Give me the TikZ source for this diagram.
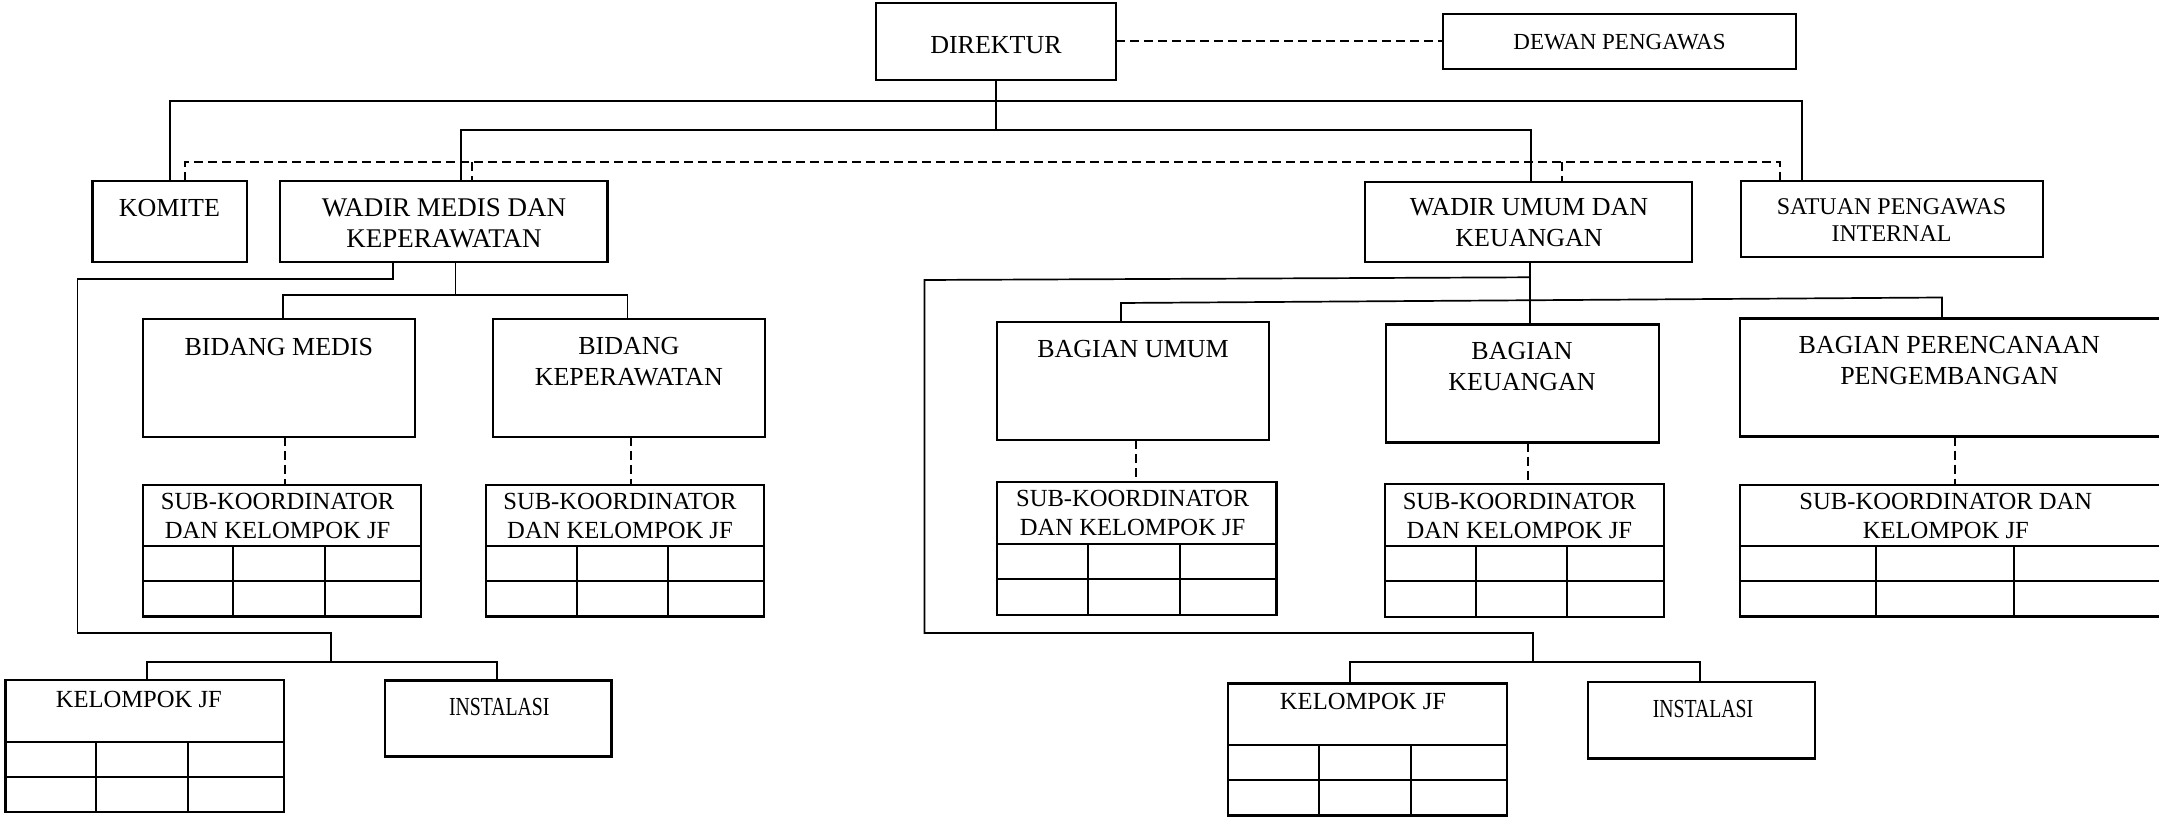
\documentclass[tikz,border=0pt]{standalone}
\usepackage{fontspec}
\setmainfont{Liberation Serif}
\usepackage{graphicx}
\tikzset{
 box/.style={draw, line width=1.25pt, inner sep=0pt, outer sep=0pt, rectangle},
 conn/.style={line width=0.85pt},
 dconn/.style={line width=1pt, dash pattern=on 4.5pt off 2.5pt},
 gridline/.style={line width=1pt},
 txt/.style={inner sep=0pt, align=center, font=\fontsize{13}{15.5}\selectfont},
 stxt/.style={inner sep=0pt, align=center, font=\fontsize{12.3}{14.25}\selectfont},
}
\newcommand\bx[5]{\node[box, minimum width={(#4-#2)*0.5pt}, minimum height={(#5-#3)*0.5pt}] (#1) at ({(#2+#4)/2},{(#3+#5)/2}) {};}
\newcommand\tbl[5]{%
 \draw[gridline] (#1.west |- 0,#2) -- (#1.east |- 0,#2);
 \draw[gridline] (#1.west |- 0,#3) -- (#1.east |- 0,#3);
 \draw[gridline] (#4,#2) -- (#1.south -| #4,0);
 \draw[gridline] (#5,#2) -- (#1.south -| #5,0);}
\begin{document}
\begin{tikzpicture}[x=0.5pt,y=-0.5pt]
\useasboundingbox (0,0) rectangle (2159,817);
\clip (0,0) rectangle (2159,817);
% boxes
\bx{direktur}{876}{3}{1116}{80}
\bx{dewan}{1443}{14}{1796}{69}
\bx{komite}{92.6}{181}{247}{262}
\bx{wmedis}{280}{181}{607.5}{262}
\bx{wumum}{1365}{182}{1692}{262}
\bx{satuan}{1741}{181}{2043}{257}
\bx{bmedis}{143}{319}{415}{437}
\bx{bkep}{493}{319}{765}{437}
\bx{bumum}{997}{322}{1269}{440}
\bx{bkeu}{1386}{324.7}{1659}{442.7}
\bx{bren}{1740}{318.7}{2170}{436.7}
\bx{sub1}{143}{485}{421}{616.7}
\bx{sub2}{486}{485}{764}{616.7}
\bx{sub3}{997}{482}{1276.5}{615}
\bx{sub4}{1385}{484}{1664}{617}
\bx{sub5}{1740}{485}{2170}{616.7}
\bx{kjf1}{5.4}{680}{284}{812}
\bx{inst1}{385}{680.7}{611.6}{756.7}
\bx{kjf2}{1228}{683.7}{1507}{815.5}
\bx{inst2}{1588}{682}{1815}{758.7}
% tables
\tbl{sub1}{545.7}{580.7}{233}{325}
\tbl{sub2}{545.7}{580.7}{576.5}{668}
\tbl{sub3}{544}{579}{1088}{1180}
\tbl{sub4}{545.7}{580.7}{1475.5}{1567}
\tbl{sub5}{545.7}{580.7}{1876}{2014.3}
\tbl{kjf1}{741.7}{776.7}{95.5}{187.5}
\tbl{kjf2}{745}{780}{1318.75}{1410.7}
% texts
\node[txt] (t-dir) at (996,45) {DIREKTUR};
\node[txt, font=\fontsize{11.5}{13}\selectfont] (t-dew) at (1619.5,41.7) {DEWAN PENGAWAS};
\node[txt] (t-kom) at (169.4,208) {KOMITE};
\node[txt, font=\fontsize{13.5}{15.5}\selectfont] (t-wm) at (444,223.5) {WADIR MEDIS DAN\\KEPERAWATAN};
\node[txt] (t-wu) at (1529,223) {WADIR UMUM DAN\\KEUANGAN};
\node[txt, font=\fontsize{12}{13.5}\selectfont] (t-sat) at (1891.5,220.5) {SATUAN PENGAWAS\\INTERNAL};
\node[txt] (t-bm) at (278.8,347) {BIDANG MEDIS};
\node[txt] (t-bk) at (628.8,361.5) {BIDANG\\KEPERAWATAN};
\node[stxt] (t-s1) at (277.6,516) {SUB-KOORDINATOR\\DAN KELOMPOK JF};
\node[stxt] (t-s2) at (620,516) {SUB-KOORDINATOR\\DAN KELOMPOK JF};
\node[txt] (t-bu) at (1133,349) {BAGIAN UMUM};
\node[txt] (t-bke) at (1522,366.5) {BAGIAN\\KEUANGAN};
\node[stxt] (t-s3) at (1132.7,513) {SUB-KOORDINATOR\\DAN KELOMPOK JF};
\node[stxt] (t-s4) at (1519.4,516) {SUB-KOORDINATOR\\DAN KELOMPOK JF};
\node[txt] (t-br) at (1949.3,360.5) {BAGIAN PERENCANAAN\\PENGEMBANGAN};
\node[stxt] (t-s5) at (1945.8,516) {SUB-KOORDINATOR DAN\\KELOMPOK JF};
\node[stxt] (t-k1) at (138.8,699) {KELOMPOK JF};
\node[stxt, font=\fontsize{13}{15}\selectfont] (t-i1) at (499.3,707.5) {\scalebox{0.76}[1]{INSTALASI}};
\node[stxt] (t-k2) at (1363,701.7) {KELOMPOK JF};
\node[stxt, font=\fontsize{13}{15}\selectfont] (t-i2) at (1703,709) {\scalebox{0.76}[1]{INSTALASI}};
% connectors: top level
\draw[dconn] (direktur.east) -- (dewan.west);
\coordinate (topL) at (komite.north |- 0,101);
\coordinate (topR) at (1802,101);
\draw[conn] (komite.north) -- (topL) -- (topR) -- (topR |- satuan.north);
\coordinate (midL) at (461,130);
\coordinate (midR) at (1531,130);
\draw[conn] (direktur.south) -- (direktur.south |- midL);
\draw[conn] (wmedis.north -| midL) -- (midL) -- (midR) -- (wumum.north -| midR);
\coordinate (dA) at (185,162);
\coordinate (dB) at (472,162);
\coordinate (dC) at (1562,162);
\coordinate (dD) at (1780,162);
\draw[dconn] (komite.north -| dA) -- (dA) -- (dD) -- (satuan.north -| dD);
\draw[dconn] (dB) -- (wmedis.north -| dB);
\draw[dconn] (dC) -- (wumum.north -| dC);
% left branch
\coordinate (lm1) at (393,279);
\coordinate (lm2) at (77.6,279);
\coordinate (lm3) at (77.6,633);
\coordinate (lm4) at (331,633);
\coordinate (lm5) at (331,662);
\draw[conn] (wmedis.south -| lm1) -- (lm1) -- (lm2) -- (lm3) -- (lm4) -- (lm5);
\coordinate (kb1) at (147,662);
\coordinate (kb2) at (497,662);
\draw[conn] (kjf1.north -| kb1) -- (kb1) -- (kb2) -- (inst1.north -| kb2);
\coordinate (bd) at (455.6,295);
\coordinate (bdL) at (283,295);
\coordinate (bdR) at (627.5,295);
\draw[conn] (wmedis.south -| bd) -- (bd);
\draw[conn] (bmedis.north -| bdL) -- (bdL) -- (bdR) -- (bkep.north -| bdR);
\draw[dconn] (bmedis.south -| 284.7,0) -- (sub1.north -| 284.7,0);
\draw[dconn] (bkep.south -| 630.6,0) -- (sub2.north -| 630.6,0);
% right branch
\draw[conn] (wumum.south -| 1530,0) -- (bkeu.north -| 1530,0);
\coordinate (rs) at (1530,277.3);
\coordinate (rl1) at (924.5,280);
\coordinate (rl2) at (924.5,633);
\coordinate (rl3) at (1533,633);
\coordinate (rl4) at (1533,662);
\draw[conn] (rs) -- (rl1) -- (rl2) -- (rl3) -- (rl4);
\coordinate (kb3) at (1350,662);
\coordinate (kb4) at (1700,662);
\draw[conn] (kjf2.north -| kb3) -- (kb3) -- (kb4) -- (inst2.north -| kb4);
\coordinate (bb1) at (1121,303);
\coordinate (bb2) at (1942,297.5);
\draw[conn] (bumum.north -| bb1) -- (bb1) -- (bb2) -- (bren.north -| bb2);
\draw[dconn] (bumum.south -| 1136,0) -- (sub3.north -| 1136,0);
\draw[dconn] (bkeu.south -| 1527.5,0) -- (sub4.north -| 1527.5,0);
\draw[dconn] (bren.south -| 1954.7,0) -- (sub5.north -| 1954.7,0);
\end{tikzpicture}
\end{document}
